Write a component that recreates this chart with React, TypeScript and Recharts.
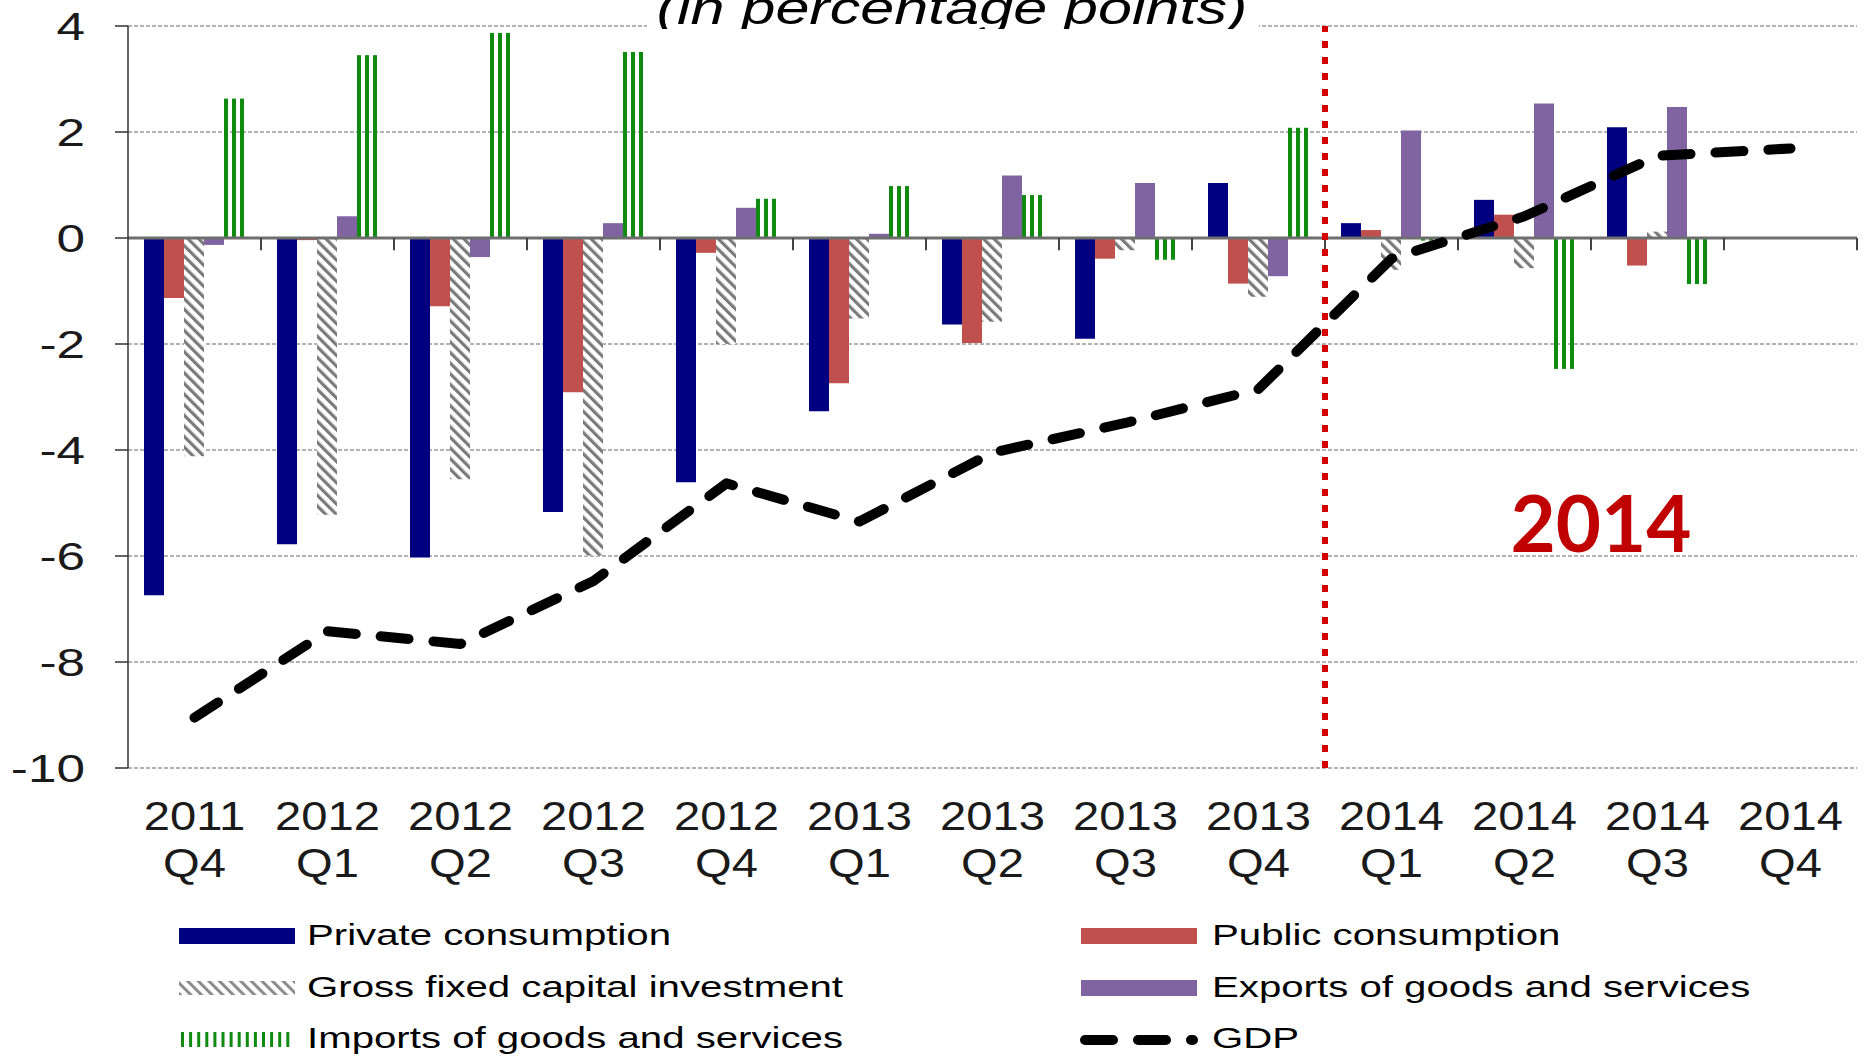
import {
    ComposedChart,
    Bar,
    Line,
    XAxis,
    YAxis,
    CartesianGrid,
    ReferenceLine,
} from "recharts";

const quarters = [
    "2011 Q4", "2012 Q1", "2012 Q2", "2012 Q3", "2012 Q4", "2013 Q1", "2013 Q2",
    "2013 Q3", "2013 Q4", "2014 Q1", "2014 Q2", "2014 Q3", "2014 Q4",
];
const privateConsumption = [-6.74, -5.78, -6.03, -5.17, -4.61, -3.27, -1.63, -1.9, 1.04, 0.28, 0.72, 2.09, null];
const publicConsumption = [-1.13, -0.04, -1.29, -2.91, -0.28, -2.74, -1.98, -0.39, -0.86, 0.15, 0.44, -0.52, null];
const capitalInvestment = [-4.12, -5.22, -4.55, -5.99, -2.0, -1.52, -1.58, -0.23, -1.11, -0.6, -0.57, 0.12, null];
const exportsGoods = [-0.13, 0.41, -0.36, 0.28, 0.57, 0.08, 1.18, 1.04, -0.72, 2.03, 2.54, 2.47, null];
const importsGoods = [2.63, 3.45, 3.87, 3.51, 0.74, 0.98, 0.81, -0.41, 2.08, -0.05, -2.47, -0.87, null];
const gdp = [-9.05, -7.42, -7.66, -6.47, -4.63, -5.35, -4.05, -3.49, -2.85, -0.39, 0.41, 1.55, 1.69];
const yTicks = [4, 2, 0, -2, -4, -6, -8, -10];

const FONT = "'Liberation Sans', Arial, sans-serif";
const GREEN = "#108a10";

// imports are drawn as three thin vertical strokes, like the original
function StripedBar(props: any) {
    const { x, y, width, height } = props;
    if (!height || !width) return null;
    const top = Math.min(y, y + height);
    const h = Math.abs(height);
    const lw = 4;
    const step = (width - lw) / 2;
    return (
        <g>
            {[0, 1, 2].map((i) => (
                <rect key={i} x={x + i * step} y={top} width={lw} height={h} fill={GREEN} />
            ))}
        </g>
    );
}

function QuarterTick({ x, y, payload }: any) {
    const [year, q] = String(payload.value).split(" ");
    return (
        <g transform={`translate(${x},${y}) scale(1.15,1)`}>
            <text textAnchor="middle" fontFamily={FONT} fontSize={41} fill="#1a1a1a">
                <tspan x={0} y={62}>{year}</tspan>
                <tspan x={0} y={109}>{q}</tspan>
            </text>
        </g>
    );
}

function ValueTick({ x, y, payload }: any) {
    return (
        <text
            x={0}
            y={0}
            textAnchor="end"
            transform={`translate(${x - 30},${y + 13.5}) scale(1.35,1)`}
            fontFamily={FONT}
            fontSize={38}
            fill="#1a1a1a"
        >
            {payload.value}
        </text>
    );
}

const legendLeft = [
    { label: "Private consumption", kind: "navy" },
    { label: "Gross fixed capital investment", kind: "hatch" },
    { label: "Imports of goods and services", kind: "stripes" },
];
const legendRight = [
    { label: "Public consumption", kind: "red" },
    { label: "Exports of goods and services", kind: "purple" },
    { label: "GDP", kind: "gdp" },
];

function Swatch({ kind, x, base }: { kind: string; x: number; base: number }) {
    const w = 116;
    const top = base - 17;
    if (kind === "navy") return <rect x={x} y={top} width={w} height={16} fill="#000080" />;
    if (kind === "red") return <rect x={x} y={top} width={w} height={16} fill="#C0504D" />;
    if (kind === "purple") return <rect x={x} y={top} width={w} height={16} fill="#8064A2" />;
    if (kind === "hatch") return <rect x={x} y={top + 1} width={w} height={14} fill="url(#legendHatch)" />;
    if (kind === "stripes")
        return (
            <g>
                {Array.from({ length: 14 }).map((_, i) => (
                    <rect key={i} x={x + 2 + i * 8.1} y={top + 1} width={3} height={15} fill={GREEN} />
                ))}
            </g>
        );
    return (
        <line
            x1={x + 4}
            x2={x + 112}
            y1={base - 8}
            y2={base - 8}
            stroke="#000"
            strokeWidth={10}
            strokeDasharray="28 25"
            strokeLinecap="round"
        />
    );
}

export default function App() {
    const data = quarters.map((q, i) => ({
        quarter: q,
        privateConsumption: privateConsumption[i],
        publicConsumption: publicConsumption[i],
        capitalInvestment: capitalInvestment[i],
        exportsGoods: exportsGoods[i],
        importsGoods: importsGoods[i],
        gdp: gdp[i],
    }));
    const last = quarters[quarters.length - 1];
    const rows = [945, 997, 1048];

    return (
        <div style={{ position: "absolute", left: 0, top: 0, width: 1866, height: 1060, background: "#fff" }}>
            <ComposedChart
                width={1866}
                height={1060}
                data={data}
                margin={{ top: 26, right: 9, left: 0, bottom: 0 }}
                barGap={0}
                barCategoryGap={16}
            >
                <defs>
                    <pattern
                        id="gfcfHatch"
                        patternUnits="userSpaceOnUse"
                        width={7.5}
                        height={7.5}
                        patternTransform="rotate(-45)"
                    >
                        <rect width={7.5} height={7.5} fill="#fff" />
                        <rect width={3.2} height={7.5} fill="#7a7a7a" />
                    </pattern>
                </defs>
                <CartesianGrid vertical={false} stroke="#9a9a9a" strokeWidth={1.5} strokeDasharray="4 2" />
                <XAxis
                    dataKey="quarter"
                    height={292}
                    axisLine={false}
                    tickLine={false}
                    tickSize={0}
                    tickMargin={0}
                    interval={0}
                    tick={<QuarterTick />}
                />
                <YAxis
                    domain={[-10, 4]}
                    ticks={yTicks}
                    width={128}
                    tickSize={13}
                    tickMargin={0}
                    axisLine={{ stroke: "#333", strokeWidth: 1.5 }}
                    tickLine={{ stroke: "#333", strokeWidth: 1.5 }}
                    tick={<ValueTick />}
                />
                <Bar dataKey="privateConsumption" fill="#000080" isAnimationActive={false} />
                <Bar dataKey="publicConsumption" fill="#C0504D" isAnimationActive={false} />
                <Bar dataKey="capitalInvestment" fill="url(#gfcfHatch)" isAnimationActive={false} />
                <Bar dataKey="exportsGoods" fill="#8064A2" isAnimationActive={false} />
                <Bar dataKey="importsGoods" fill={GREEN} shape={<StripedBar />} isAnimationActive={false} />
                <ReferenceLine y={0} stroke="#6e6e6e" strokeWidth={3} />
                {quarters.slice(1).map((q) => (
                    <ReferenceLine
                        key={q}
                        segment={[{ x: q, y: 0 }, { x: q, y: -0.23 }]}
                        position="start"
                        stroke="#444"
                        strokeWidth={2}
                    />
                ))}
                <ReferenceLine
                    segment={[{ x: last, y: 0 }, { x: last, y: -0.23 }]}
                    position="end"
                    stroke="#444"
                    strokeWidth={2}
                />
                <Line
                    type="linear"
                    dataKey="gdp"
                    stroke="#000"
                    strokeWidth={10}
                    strokeDasharray="28 25"
                    strokeLinecap="round"
                    strokeLinejoin="round"
                    dot={false}
                    activeDot={false}
                    isAnimationActive={false}
                />
                <ReferenceLine x="2013 Q4" position="end" stroke="#d40000" strokeWidth={6} strokeDasharray="7 9" />
            </ComposedChart>

            <svg
                width={1866}
                height={1060}
                style={{ position: "absolute", left: 0, top: 0, pointerEvents: "none" }}
            >
                <defs>
                    <pattern
                        id="legendHatch"
                        patternUnits="userSpaceOnUse"
                        width={7.5}
                        height={7.5}
                        patternTransform="rotate(-45)"
                    >
                        <rect width={3} height={7.5} fill="#8a8a8a" />
                    </pattern>
                    <clipPath id="titleClip">
                        <rect x={640} y={0} width={620} height={29} />
                    </clipPath>
                </defs>
                {/* title, cropped at the top like the source slide */}
                <rect x={647} y={0} width={612} height={29} fill="#fff" />
                <g clipPath="url(#titleClip)">
                    <text
                        x={0}
                        y={0}
                        textAnchor="middle"
                        transform="translate(952,24) scale(1.3,1)"
                        fontFamily={FONT}
                        fontStyle="italic"
                        fontSize={47}
                        fill="#000"
                    >
                        (in percentage points)
                    </text>
                </g>
                <text
                    x={1601}
                    y={552}
                    textAnchor="middle"
                    fontFamily="Lato, 'Liberation Sans', sans-serif"
                    fontWeight={700}
                    fontSize={78}
                    fill="#C00000"
                >
                    2014
                </text>
                {legendLeft.map((item, i) => (
                    <g key={item.label}>
                        <Swatch kind={item.kind} x={179} base={rows[i]} />
                        <text
                            x={0}
                            y={0}
                            transform={`translate(307,${rows[i]}) scale(1.34,1)`}
                            fontFamily={FONT}
                            fontSize={30}
                            fill="#000"
                        >
                            {item.label}
                        </text>
                    </g>
                ))}
                {legendRight.map((item, i) => (
                    <g key={item.label}>
                        <Swatch kind={item.kind} x={1081} base={rows[i]} />
                        <text
                            x={0}
                            y={0}
                            transform={`translate(1212,${rows[i]}) scale(1.34,1)`}
                            fontFamily={FONT}
                            fontSize={30}
                            fill="#000"
                        >
                            {item.label}
                        </text>
                    </g>
                ))}
            </svg>
        </div>
    );
}
